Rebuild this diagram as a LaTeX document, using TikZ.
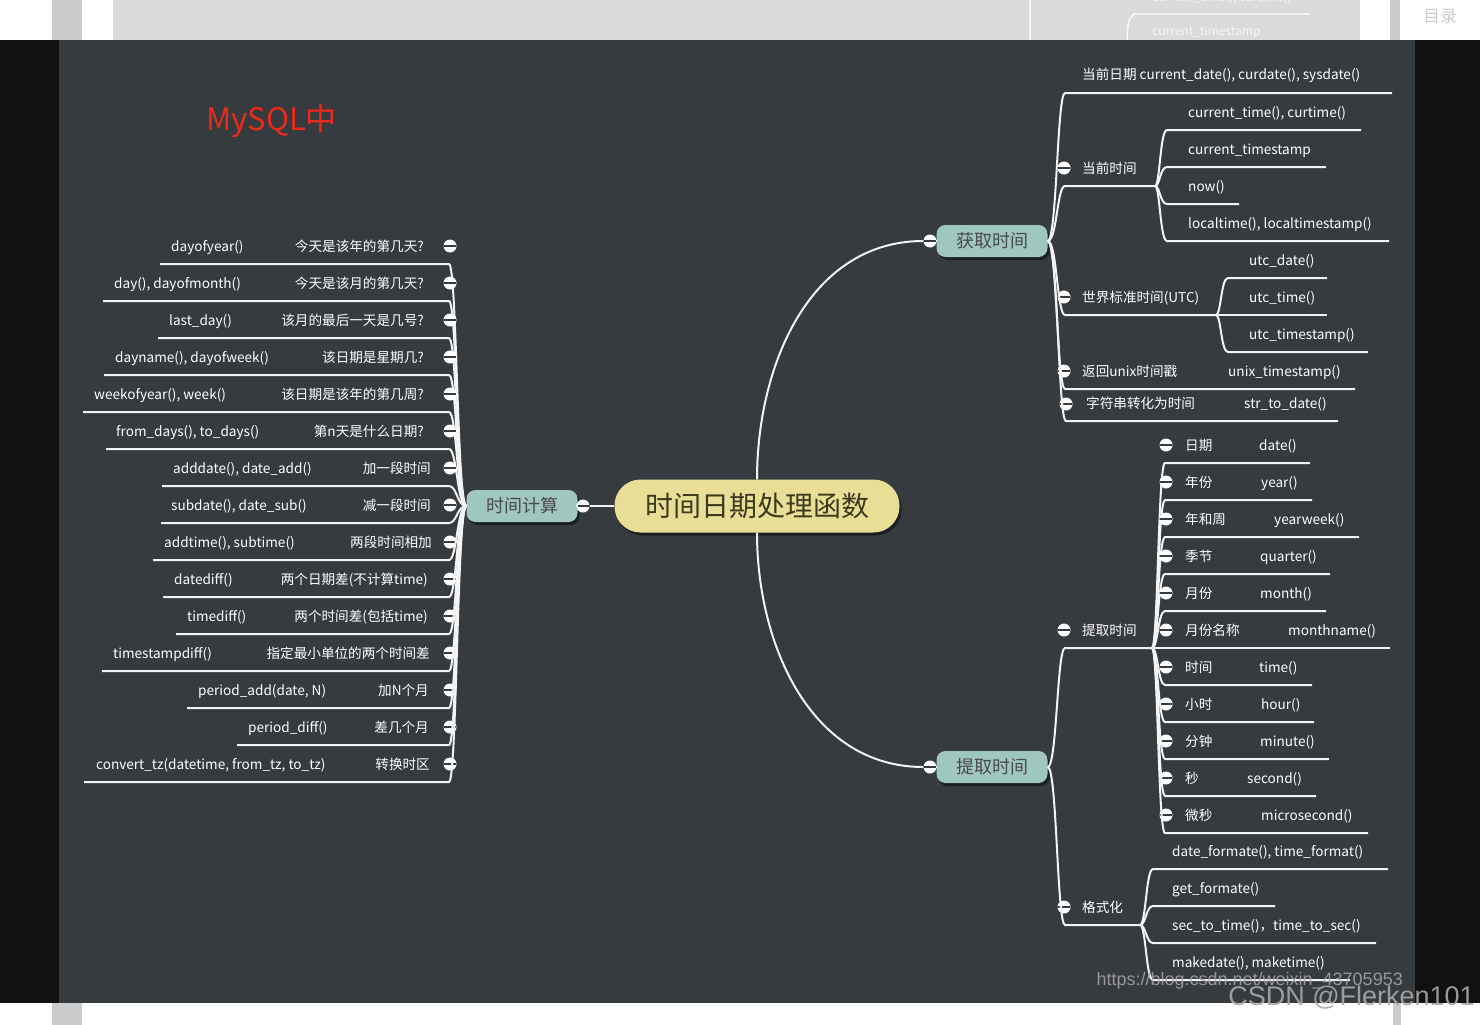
\documentclass[tikz,border=0pt]{standalone}
\usepackage{fontspec}
\setmainfont{Noto Sans CJK SC}
\newfontfamily\marca{Liberation Sans}
\usetikzlibrary{shadows}
\definecolor{fondo}{RGB}{54,59,63}
\definecolor{negro}{RGB}{17,17,17}
\definecolor{franja}{RGB}{217,218,219}
\definecolor{barra}{RGB}{204,204,204}
\definecolor{ramafill}{RGB}{160,198,192}
\definecolor{ramatext}{RGB}{74,74,74}
\definecolor{raizfill}{RGB}{233,222,150}
\definecolor{raiztext}{RGB}{60,58,30}
\definecolor{rojo}{RGB}{234,42,26}
\definecolor{marcagris}{RGB}{168,168,168}
\tikzset{
  raiz/.style={
    rounded corners=26pt,
    fill=raizfill,
    text=raiztext,
    font=\fontsize{28}{32}\selectfont,
    minimum width=285pt,
    minimum height=53pt,
    inner sep=0pt,
    drop shadow={shadow xshift=2pt,shadow yshift=-3pt,opacity=.45,fill=black}
  },
  rama/.style={
    rounded corners=9pt,
    fill=ramafill,
    text=ramatext,
    font=\fontsize{18}{22}\selectfont,
    minimum width=111pt,
    minimum height=32pt,
    inner sep=0pt,
    drop shadow={shadow xshift=2pt,shadow yshift=-3pt,opacity=.45,fill=black}
  },
  hoja/.style={
    text=white,
    font=\fontsize{13.6}{16}\selectfont,
    inner sep=0pt,
    anchor=base west
  },
  hojad/.style={hoja, anchor=base east},
  boton/.style={
    circle,
    fill=white,
    minimum size=13pt,
    inner sep=0pt,
    path picture={\draw[fondo, line width=1.8pt]
      ([xshift=-7pt]path picture bounding box.center) --
      ([xshift=7pt]path picture bounding box.center);}
  },
  linea/.style={
    draw=white!94!fondo,
    line width=2pt
  },
  fantasma/.style={
    text=white!75!franja,
    font=\fontsize{12}{14}\selectfont,
    inner sep=0pt,
    anchor=base west
  }
}

\begin{document}
\begin{tikzpicture}[x=1pt,y=-1pt]
\useasboundingbox (0,0) rectangle (1480,1025);
% pagina detras
\fill[white] (0,0) rectangle (1480,1025);
\fill[barra] (52,0) rectangle (82,40);
\fill[franja] (113,0) rectangle (1360,40);
\fill[barra] (1390,0) rectangle (1400,40);
\node[text=barra, font=\fontsize{17}{20}\selectfont] (indice) at (1440,17) {目录};
\draw[white!80!franja, line width=1.5pt] (1030,0) -- (1030,40);
\draw[white!80!franja, line width=1.5pt] (1127,40) .. controls (1128,20) .. (1134,14) -- (1310,14);
\node[fantasma] (g1) at (1152,2) {current\_time(), curtime()};
\node[fantasma] (g2) at (1152,36) {current\_timestamp};
\fill[barra] (52,1003) rectangle (82,1025);
\fill[barra] (1393,1003) rectangle (1401,1025);
% visor
\fill[negro] (0,40) rectangle (1480,1003);
\fill[fondo] (59,40) rectangle (1415,1003);

\node[text=rojo, font=\fontsize{31}{36}\selectfont, anchor=west, inner sep=0pt] (titulo) at (206,121) {MySQL中};

% nodos principales
\node[raiz] (root) at (757,506) {时间日期处理函数};
\node[rama] (tc) at (522,506) {时间计算};
\node[rama] (gt) at (992,241) {获取时间};
\node[rama] (tq) at (992,767) {提取时间};
\node[boton] (btc) at (583,506) {};
\node[boton] (bgt) at (930,241) {};
\node[boton] (btq) at (930,767) {};
\draw[linea] (btc) -- (root);
\draw[linea] (tc) -- (btc);
\draw[linea] (root.north) to[out=90,in=180] (bgt);
\draw[linea] (root.south) to[out=-90,in=180] (btq);
\draw[linea] (bgt) -- (gt);
\draw[linea] (btq) -- (tq);

% rama izquierda: tiempo calculado
\foreach \y/\fx/\f/\dx/\d/\lx [count=\i] in {
  246/171/{dayofyear()}/424/{今天是该年的第几天?}/160,
  283/114/{day(), dayofmonth()}/424/{今天是该月的第几天?}/103,
  320/169/{last\_day()}/424/{该月的最后一天是几号?}/158,
  357/115/{dayname(), dayofweek()}/424/{该日期是星期几?}/104,
  394/94/{weekofyear(), week()}/424/{该日期是该年的第几周?}/83,
  431/116/{from\_days(), to\_days()}/424/{第n天是什么日期?}/106,
  468/173/{adddate(), date\_add()}/431/{加一段时间}/162,
  505/171/{subdate(), date\_sub()}/431/{减一段时间}/161,
  542/164/{addtime(), subtime()}/432/{两段时间相加}/153,
  579/174/{datediff()}/428/{两个日期差(不计算time)}/163,
  616/187/{timediff()}/428/{两个时间差(包括time)}/176,
  653/113/{timestampdiff()}/430/{指定最小单位的两个时间差}/102,
  690/198/{period\_add(date, N)}/429/{加N个月}/187,
  727/248/{period\_diff()}/429/{差几个月}/237,
  764/96/{convert\_tz(datetime, from\_tz, to\_tz)}/430/{转换时区}/84} {
  \node[hoja] (fl\i) at (\fx,\y+5) {\f};
  \node[hojad] (dl\i) at (\dx,\y+5) {\d};
  \node[boton] (bl\i) at (450,\y) {};
  \coordinate (ul\i) at (\lx,\y+18);
  \draw[linea] (tc.west) .. controls (457,506) and (457,\y+18) .. (449,\y+18) -- (ul\i);
}

% rama derecha: obtener tiempo
\node[hoja] (fecha) at (1082,80) {当前日期 current\_date(), curdate(), sysdate()};
\coordinate (ufecha) at (1392,93);
\draw[linea] (gt.east) .. controls (1057,241) and (1057,93) .. (1065,93) -- (ufecha);

\node[hoja] (actual) at (1082,173) {当前时间};
\node[boton] (bactual) at (1064,168) {};
\coordinate (uactual) at (1155,186);
\draw[linea] (gt.east) .. controls (1057,241) and (1057,186) .. (1065,186) -- (uactual);
\foreach \y/\f/\rx [count=\i] in {
  112/{current\_time(), curtime()}/1361,
  149/{current\_timestamp}/1326,
  186/{now()}/1239,
  223/{localtime(), localtimestamp()}/1389} {
  \node[hoja] (ca\i) at (1188,\y+5) {\f};
  \coordinate (uca\i) at (\rx,\y+18);
  \draw[linea] (uactual) .. controls (1160,186) and (1160,\y+18) .. (1167,\y+18) -- (uca\i);
}

\node[hoja] (utc) at (1082,302) {世界标准时间(UTC)};
\node[boton] (butc) at (1064,297) {};
\coordinate (uutc) at (1216,315);
\draw[linea] (gt.east) .. controls (1057,241) and (1057,315) .. (1065,315) -- (uutc);
\foreach \y/\f/\rx [count=\i] in {
  260/{utc\_date()}/1327,
  297/{utc\_time()}/1327,
  334/{utc\_timestamp()}/1368} {
  \node[hoja] (cu\i) at (1249,\y+5) {\f};
  \coordinate (ucu\i) at (\rx,\y+18);
  \draw[linea] (uutc) .. controls (1221,315) and (1221,\y+18) .. (1228,\y+18) -- (ucu\i);
}

\node[hoja] (unix) at (1082,376) {返回unix时间戳};
\node[hoja] (unixf) at (1228,376) {unix\_timestamp()};
\node[boton] (bunix) at (1064,371) {};
\coordinate (uunix) at (1355,389);
\draw[linea] (gt.east) .. controls (1057,241) and (1057,389) .. (1065,389) -- (uunix);

\node[hoja] (cadena) at (1086,408) {字符串转化为时间};
\node[hoja] (cadenaf) at (1244,408) {str\_to\_date()};
\node[boton] (bcadena) at (1066,404) {};
\coordinate (ucadena) at (1338,421);
\draw[linea] (gt.east) .. controls (1058,241) and (1058,421) .. (1066,421) -- (ucadena);

% rama derecha: extraer tiempo
\node[hoja] (extraer) at (1082,635) {提取时间};
\node[boton] (bextraer) at (1064,630) {};
\coordinate (uextraer) at (1152,648);
\draw[linea] (tq.east) .. controls (1057,767) and (1057,648) .. (1065,648) -- (uextraer);
\foreach \y/\c/\fx/\f/\rx [count=\i] in {
  445/{日期}/1259/{date()}/1310,
  482/{年份}/1261/{year()}/1312,
  519/{年和周}/1274/{yearweek()}/1359,
  556/{季节}/1260/{quarter()}/1330,
  593/{月份}/1260/{month()}/1326,
  630/{月份名称}/1288/{monthname()}/1390,
  667/{时间}/1259/{time()}/1312,
  704/{小时}/1261/{hour()}/1314,
  741/{分钟}/1260/{minute()}/1329,
  778/{秒}/1247/{second()}/1316,
  815/{微秒}/1261/{microsecond()}/1368} {
  \node[boton] (be\i) at (1166,\y) {};
  \node[hoja] (ce\i) at (1185,\y+5) {\c};
  \node[hoja] (fe\i) at (\fx,\y+5) {\f};
  \coordinate (ue\i) at (\rx,\y+18);
  \draw[linea] (uextraer) .. controls (1158,648) and (1158,\y+18) .. (1165,\y+18) -- (ue\i);
}

\node[hoja] (formato) at (1082,912) {格式化};
\node[boton] (bformato) at (1064,907) {};
\coordinate (uformato) at (1140,925);
\draw[linea] (tq.east) .. controls (1057,767) and (1057,925) .. (1065,925) -- (uformato);
\foreach \y/\f/\rx [count=\i] in {
  851/{date\_formate(), time\_format()}/1388,
  888/{get\_formate()}/1275,
  925/{sec\_to\_time()，time\_to\_sec()}/1376,
  962/{makedate(), maketime()}/1350} {
  \node[hoja] (cf\i) at (1172,\y+5) {\f};
  \coordinate (ucf\i) at (\rx,\y+18);
  \draw[linea] (uformato) .. controls (1146,925) and (1146,\y+18) .. (1153,\y+18) -- (ucf\i);
}

% marcas de agua
\node[text=marcagris, opacity=.85, font=\marca\fontsize{18}{22}\selectfont, anchor=east, inner sep=0pt] (url) at (1403,981) {https://blog.csdn.net/weixin\_43705953};
\node[text=marcagris, opacity=.9, font=\marca\fontsize{27}{32}\selectfont, anchor=east, inner sep=0pt] (csdn) at (1475,998) {CSDN @Flerken101};
\end{tikzpicture}
\end{document}
